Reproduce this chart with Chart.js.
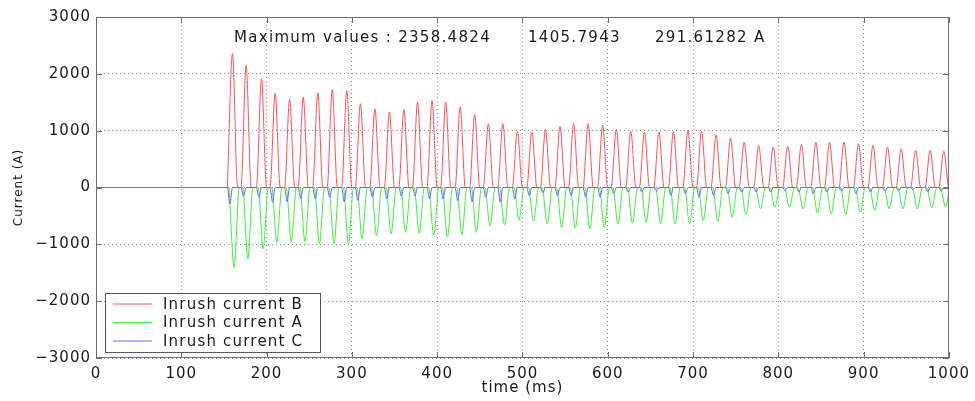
<!DOCTYPE html>
<html>
<head>
<meta charset="utf-8">
<title>Inrush currents</title>
<script src="https://cdn.jsdelivr.net/npm/chart.js@4.4.1/dist/chart.umd.min.js"></script>
<style>
  html, body { margin: 0; padding: 0; background: #fff; }
  canvas { display: block; }
</style>
</head>
<body>
<canvas id="inrushChart" width="975" height="401"></canvas>
<script>
// times of each current pulse (ms)
const cycleTimes = [160, 176, 194, 210, 227, 243, 260, 277, 294, 310, 327, 344, 361, 377, 394, 410, 427,
  444, 460, 477, 494, 511, 527, 544, 560, 577, 594, 610, 627, 643, 660, 677, 694, 710, 727, 744, 760,
  777, 794, 811, 827, 844, 860, 877, 894, 911, 928, 944, 961, 978, 994];

// peak value of each pulse (A)
const peaksB = [2358, 2148, 1913, 1660, 1549, 1590, 1667, 1720, 1708, 1473, 1385, 1326, 1373, 1502, 1532,
  1502, 1414, 1280, 1121, 1121, 986, 974, 1021, 1074, 1121, 1121, 1092, 1021, 986, 974, 974, 986, 1004,
  991, 928, 868, 798, 734, 710, 727, 757, 798, 798, 798, 769, 739, 710, 681, 651, 651, 639];
const peaksA = [-1406, -1255, -1079, -963, -951, -951, -991, -991, -991, -903, -845, -815, -787, -805, -845,
  -875, -833, -787, -681, -657, -569, -593, -639, -699, -710, -727, -699, -639, -628, -611, -639, -639,
  -639, -581, -598, -523, -481, -375, -347, -347, -375, -452, -463, -481, -435, -405, -375, -375, -375,
  -357, -347];
const peaksC = [-291, -150, -170, -260, -250, -200, -200, -170, -250, -230, -170, -200, -150, -150, -200,
  -200, -230, -250, -170, -260, -200, -140, -90, -140, -140, -170, -170, -110, -80, -80, -60, -140, -110,
  -170, -140, -110, -80, -80, -80, -60, -80, -110, -80, -60, -110, -80, -60, -60, -40, -80, -60];

const seriesNames = ['Inrush current B', 'Inrush current A', 'Inrush current C'];
const maxValues = ['2358.4824', '1405.7943', '291.61282'];
const xTicks = [0, 100, 200, 300, 400, 500, 600, 700, 800, 900, 1000];
const yTicks = [-3000, -2000, -1000, 0, 1000, 2000, 3000];

const colors = ['rgb(255,80,80)', 'rgb(60,240,60)', 'rgb(100,100,255)'];

// one narrow pulse per cycle, back to zero in between
// (B and A are hidden under C before switching on, so they start at their first pulse)
function pulseTrain(peaks, shift, halfWidth, fromZero) {
  const pts = fromZero ? [{x: 0, y: 0}] : [];
  cycleTimes.forEach((t, i) => {
    pts.push({x: t + shift - halfWidth, y: 0});
    pts.push({x: t + shift, y: peaks[i]});
    pts.push({x: t + shift + halfWidth, y: 0});
  });
  pts.push({x: 1000, y: 0});
  return pts;
}

const textColor = '#1a1a1a';
const frameColor = '#6e6e6e';

// box, inner tick marks, caption and legend, matlab style
const framePlugin = {
  id: 'frame',
  beforeDraw(chart) {
    chart.ctx.letterSpacing = '1px';
  },
  beforeDatasetsDraw(chart) {
    // keep the zero line on a whole pixel so it stays crisp
    const py = chart.scales.y.getPixelForValue(0);
    chart.ctx.save();
    chart.ctx.translate(0, 0.5 - (py - Math.floor(py)));
  },
  afterDatasetsDraw(chart) {
    const {ctx, chartArea: a, scales: {x, y}} = chart;
    ctx.restore();
    ctx.save();
    ctx.strokeStyle = frameColor;
    ctx.lineWidth = 1;
    ctx.strokeRect(a.left + 0.5, a.top + 0.5, a.width - 1, a.height - 1);
    ctx.beginPath();
    xTicks.forEach(v => {
      const px = Math.round(x.getPixelForValue(v)) + 0.5;
      ctx.moveTo(px, a.top); ctx.lineTo(px, a.top + 6);
      ctx.moveTo(px, a.bottom); ctx.lineTo(px, a.bottom - 6);
    });
    yTicks.forEach(v => {
      const py = Math.round(y.getPixelForValue(v)) + 0.5;
      ctx.moveTo(a.left, py); ctx.lineTo(a.left + 6, py);
      ctx.moveTo(a.right, py); ctx.lineTo(a.right - 6, py);
    });
    ctx.stroke();

    // caption
    ctx.fillStyle = textColor;
    ctx.font = '15px "DejaVu Sans"';
    ctx.letterSpacing = '1.3px';
    ctx.textBaseline = 'alphabetic';
    ctx.textAlign = 'left';
    ctx.fillText('Maximum values : ' + maxValues[0], 234, 42);
    ctx.fillText(maxValues[1], 528, 42);
    ctx.fillText(maxValues[2] + ' A', 655, 42);

    // legend
    ctx.fillStyle = '#fff';
    ctx.fillRect(105, 293, 215, 59);
    ctx.strokeStyle = '#555';
    ctx.strokeRect(105.5, 293.5, 215, 59);
    ctx.letterSpacing = '1.2px';
    ctx.textBaseline = 'middle';
    seriesNames.forEach((name, i) => {
      const ry = 304 + i * 18.5;
      ctx.strokeStyle = colors[i];
      ctx.beginPath();
      ctx.moveTo(113, ry); ctx.lineTo(152, ry);
      ctx.stroke();
      ctx.fillStyle = textColor;
      ctx.fillText(name, 163, ry + 1);
    });
    ctx.restore();
  },
  afterDraw(chart) {
    chart.ctx.letterSpacing = '0px';
  }
};

const ctx = document.getElementById('inrushChart').getContext('2d');
new Chart(ctx, {
  type: 'line',
  data: {
    datasets: [{
      label: seriesNames[0],
      data: pulseTrain(peaksB, 0, 6, false),
      borderColor: colors[0],
      order: 2
    }, {
      label: seriesNames[1],
      data: pulseTrain(peaksA, 2, 6, false),
      borderColor: colors[1],
      order: 1
    }, {
      label: seriesNames[2],
      data: pulseTrain(peaksC, -3, 3, true),
      borderColor: colors[2],
      order: 0
    }]
  },
  options: {
    responsive: false,
    animation: false,
    events: [],
    layout: { padding: { top: 17, right: 23, left: 0, bottom: 0 } },
    elements: {
      line: { borderWidth: 1, cubicInterpolationMode: 'monotone' },
      point: { radius: 0 }
    },
    plugins: {
      legend: { display: false },
      tooltip: { enabled: false }
    },
    scales: {
      x: {
        type: 'linear',
        min: 0,
        max: 1000,
        afterBuildTicks: s => { s.ticks = xTicks.map(v => ({value: v})); },
        afterFit: s => { s.height = 43; },
        grid: { color: '#8c8c8c', lineWidth: 1, drawTicks: false },
        border: { display: false, dash: [1, 3] },
        ticks: {
          padding: 7,
          color: textColor,
          font: { family: 'DejaVu Sans', size: 15 },
          maxRotation: 0,
          callback: v => String(v)
        },
        title: {
          display: true,
          text: 'time (ms)',
          color: textColor,
          font: { family: 'DejaVu Sans', size: 15 },
          padding: { top: 0, bottom: 4 }
        }
      },
      y: {
        min: -3000,
        max: 3000,
        afterBuildTicks: s => { s.ticks = yTicks.map(v => ({value: v})); },
        afterFit: s => { s.width = 96; },
        grid: { color: '#8c8c8c', lineWidth: 1, drawTicks: false },
        border: { display: false, dash: [1, 3] },
        ticks: {
          padding: 5,
          color: textColor,
          font: { family: 'DejaVu Sans', size: 15 },
          callback: v => v < 0 ? '\u2212' + Math.abs(v) : String(v)
        },
        title: {
          display: true,
          text: 'Current (A)',
          color: textColor,
          font: { family: 'DejaVu Sans', size: 12 },
          padding: { top: 12, bottom: 0 }
        }
      }
    }
  },
  plugins: [framePlugin]
});
</script>
</body>
</html>
